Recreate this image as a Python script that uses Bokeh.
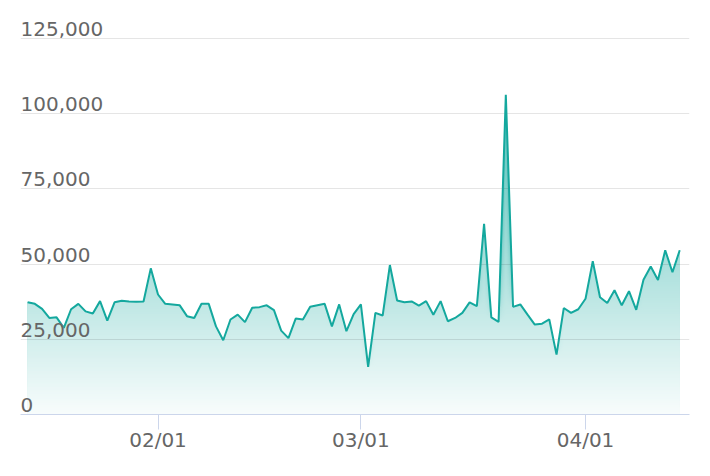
import numpy as np
import pandas as pd
from bokeh.plotting import figure
from bokeh.models import Range1d, FixedTicker, DatetimeTickFormatter, ColumnDataSource, LabelSet
from bokeh.core.properties import value
from bokeh.embed import file_html
from bokeh.resources import INLINE

# ---- data ----
start_date = "2023-01-14"
values = [
    37300, 36800, 35100, 32100, 32300, 28800, 35000, 36800, 34300, 33600,
    37700, 31200, 37300, 37800, 37600, 37500, 37600, 48600, 39900, 36800,
    36600, 36300, 32700, 32100, 36800, 36800, 29300, 24700, 31600, 33200,
    30700, 35500, 35700, 36300, 34700, 27900, 25400, 31900, 31600, 35800,
    36300, 36800, 29300, 36600, 27700, 33400, 36600, 15800, 33800, 32900,
    49700, 37900, 37300, 37600, 36200, 37700, 33200, 37700, 31000, 32100,
    33800, 37300, 36000, 63400, 32300, 30800, 106300, 35800, 36600, 33200,
    29900, 30200, 31600, 19900, 35400, 33800, 35000, 38500, 51000, 39000,
    37100, 41300, 36300, 41000, 34800, 44800, 49200, 44700, 54600, 47300,
    54600,
]
dates = pd.date_range(start_date, periods=len(values), freq="D")
y_ticks = [0, 25000, 50000, 75000, 100000, 125000]
x_ticks = ["2023-02-01", "2023-03-01", "2023-04-01"]

TEAL = (20, 168, 158)
LINE = "#14a89e"
A_TOP, A_BOT = 0.72, 0.03

x_start = pd.Timestamp("2023-01-13 00:30")
x_end = pd.Timestamp("2023-04-15 08:25")

p = figure(width=694, height=460, output_backend="svg", toolbar_location=None,
           x_axis_type="datetime",
           x_range=Range1d(x_start, x_end), y_range=Range1d(0, 135000),
           min_border_left=20, min_border_right=5, min_border_top=8,
           min_border_bottom=46)
p.outline_line_color = None
p.background_fill_color = "white"
p.border_fill_color = "white"

# gradient fill approximated by stacked opaque bands
vals = np.array(values, dtype=float)
vmax = vals.max()
N = 140
levels = np.linspace(0, vmax, N + 1)[1:]
step = vmax / N
def band_color(v):
    a = A_BOT + (A_TOP - A_BOT) * v / vmax
    r, g, b = [int(round(255 * (1 - a) + c * a)) for c in TEAL]
    return "#%02x%02x%02x" % (r, g, b)

for lv in levels[::-1]:
    r = p.varea(x=dates, y1=np.zeros_like(vals), y2=np.minimum(vals, lv),
                fill_color=band_color(lv - step / 2), fill_alpha=1.0)
    r.level = "image"

p.line(dates, vals, line_color=LINE, line_width=2)

# grid
p.xgrid.visible = False
p.ygrid.ticker = FixedTicker(ticks=y_ticks)
p.ygrid.grid_line_color = "black"
p.ygrid.grid_line_alpha = 0.1
p.ygrid.grid_line_width = 1

# y axis hidden, labels drawn inside plot
p.yaxis.visible = False
lab_src = ColumnDataSource(dict(x=[x_start] * len(y_ticks), y=y_ticks,
                                t=[f"{v:,}" for v in y_ticks]))
labels = LabelSet(x="x", y="y", text="t", source=lab_src,
                  text_font=value("DejaVu Sans"), text_font_size=value("20px"),
                  text_color=value("#666666"), text_align="left",
                  text_baseline="alphabetic", y_offset=2.5)
p.add_layout(labels)

# x axis
xa = p.xaxis[0]
xa.ticker = FixedTicker(ticks=[pd.Timestamp(t).value / 1e6 for t in x_ticks])
xa.formatter = DatetimeTickFormatter(days="%m/%d", months="%m/%d")
xa.axis_line_color = "#ccd6eb"
xa.axis_line_width = 1
xa.major_tick_line_color = "#ccd6eb"
xa.major_tick_out = 15
xa.major_tick_in = 0
xa.minor_tick_line_color = None
xa.major_label_text_font = "DejaVu Sans"
xa.major_label_text_font_size = "20px"
xa.major_label_text_color = "#666666"
xa.major_label_standoff = -2

open("out.html", "w").write(file_html(p, INLINE))
